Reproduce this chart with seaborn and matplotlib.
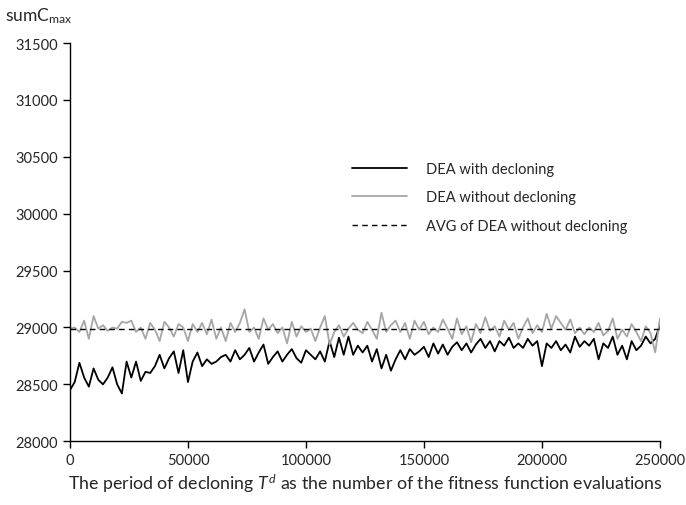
import numpy as np
import pandas as pd
import matplotlib
matplotlib.use("Agg")
import matplotlib.pyplot as plt
import seaborn as sns

# evaluations (period of decloning), one point every 2000
evaluations = list(range(0, 250001, 2000))

with_decloning = [
    28450, 28520, 28690, 28560, 28480,
    28640, 28540, 28500, 28560, 28650,
    28500, 28420, 28700, 28560, 28700,
    28530, 28610, 28600, 28660, 28760,
    28640, 28730, 28790, 28600, 28800,
    28520, 28700, 28780, 28660, 28720,
    28680, 28700, 28740, 28760, 28700,
    28800, 28720, 28760, 28820, 28700,
    28780, 28850, 28680, 28740, 28790,
    28700, 28760, 28810, 28730, 28690,
    28800, 28760, 28720, 28790, 28700,
    28880, 28740, 28910, 28760, 28920,
    28760, 28840, 28780, 28840, 28700,
    28810, 28640, 28760, 28620, 28720,
    28800, 28720, 28810, 28760, 28790,
    28830, 28740, 28860, 28770, 28850,
    28760, 28830, 28870, 28800, 28860,
    28780, 28850, 28900, 28820, 28880,
    28790, 28880, 28840, 28910, 28820,
    28860, 28820, 28900, 28840, 28880,
    28660, 28860, 28820, 28880, 28800,
    28850, 28780, 28920, 28830, 28880,
    28840, 28900, 28720, 28860, 28820,
    28920, 28760, 28840, 28720, 28880,
    28800, 28840, 28920, 28860, 28900,
    29020,
]

without_decloning = [
    28990, 29000, 28960, 29060, 28900,
    29100, 28990, 29020, 28970, 29000,
    28990, 29050, 29040, 29060, 28960,
    29000, 28900, 29040, 28980, 28880,
    29050, 29000, 28920, 29030, 29000,
    28880, 29030, 28960, 29040, 28940,
    29070, 28900, 29000, 28880, 29040,
    28960, 29040, 29160, 28960, 29000,
    28900, 29080, 28980, 29030, 28950,
    29000, 28860, 29050, 28920, 29010,
    28960, 28990, 28880, 29000, 29100,
    28850, 28960, 29020, 28920, 28990,
    29040, 28980, 28950, 29050, 28980,
    28900, 29130, 28960, 29020, 29060,
    28960, 29040, 28900, 29060, 28980,
    29050, 28940, 29000, 28960, 29070,
    28990, 28900, 29080, 28940, 29010,
    28870, 29030, 28950, 29090, 28970,
    29010, 28920, 29060, 28980, 29040,
    28900, 29000, 29080, 28950, 29020,
    28960, 29120, 28990, 29100, 29040,
    28980, 29070, 28950, 29000, 28940,
    29000, 28960, 29040, 28930, 28970,
    29080, 28900, 28980, 28920, 29030,
    28960, 28880, 29010, 28950, 28780,
    29080,
]

avg_without = 28985

y_ticks = [28000, 28500, 29000, 29500, 30000, 30500, 31000, 31500]
x_ticks = [0, 50000, 100000, 150000, 200000, 250000]

sns.set_style("white")
plt.rcParams['font.family'] = ['Lato', 'DejaVu Sans']
plt.rcParams['mathtext.fontset'] = 'custom'
plt.rcParams['mathtext.it'] = 'Lato:italic'
plt.rcParams['mathtext.rm'] = 'Lato'

fig = plt.figure(figsize=(6.86, 5.06), dpi=100)
ax = fig.add_axes([0.102, 0.126, 0.860, 0.787])

df = pd.DataFrame({"x": evaluations, "with": with_decloning, "without": without_decloning})

sns.lineplot(data=df, x="x", y="with", ax=ax, color="black", linewidth=1.3,
             label="DEA with decloning")
sns.lineplot(data=df, x="x", y="without", ax=ax, color="#a6a6a6", linewidth=1.3,
             label="DEA without decloning")
ax.plot([0, 250000], [avg_without, avg_without], color="black", linewidth=1.0,
        linestyle=(0, (4, 3)), label="AVG of DEA without decloning")

ax.set_xlim(0, 250000)
ax.set_ylim(28000, 31500)
ax.set_xticks(x_ticks)
ax.set_yticks(y_ticks)
ax.set_xticklabels([str(t) for t in x_ticks], fontsize=10.5)
ax.set_yticklabels([str(t) for t in y_ticks], fontsize=10.5)
ax.tick_params(direction="out", length=5, width=1, color="black", bottom=True, left=True)

for s in ["top", "right"]:
    ax.spines[s].set_visible(False)
for s in ["left", "bottom"]:
    ax.spines[s].set_color("black")
    ax.spines[s].set_linewidth(1)

ax.set_xlabel("The period of decloning $T^d$ as the number of the fitness function evaluations",
              fontsize=12.8, labelpad=3)
ax.set_ylabel("")
fig.text(0.008, 0.968, r"sumC$_{\mathregular{max}}$", fontsize=12.5, va="center", ha="left")

leg = ax.legend(loc="upper left", bbox_to_anchor=(0.455, 0.735), frameon=False,
                fontsize=10.5, handlelength=3.8, handletextpad=1.3, labelspacing=1.0)

fig.savefig("out.png", dpi=100)
